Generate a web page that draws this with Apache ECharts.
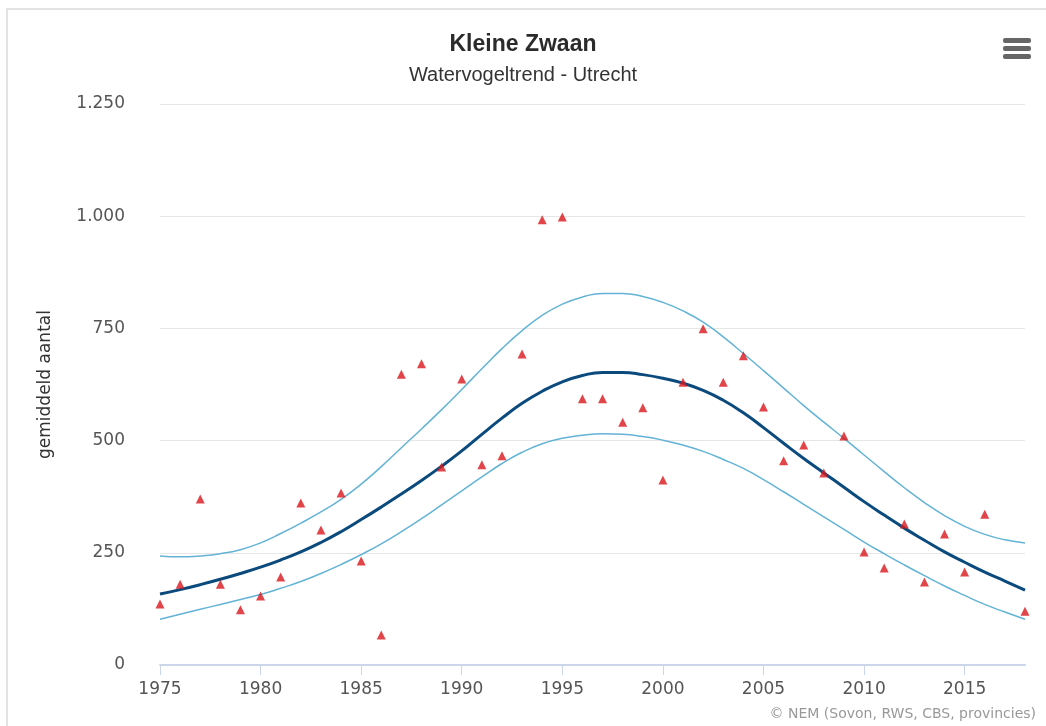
<!DOCTYPE html>
<html>
<head>
<meta charset="utf-8">
<title>Kleine Zwaan</title>
<script src="https://cdn.jsdelivr.net/npm/echarts@6/dist/echarts.min.js"></script>
<style>
  html, body { margin: 0; padding: 0; background: #fff; }
  #frame { position: absolute; left: 6px; top: 8px; width: 1040px; height: 718px;
           border-top: 2px solid #e3e3e3; border-left: 2px solid #e3e3e3; }
  #chart { position: absolute; left: 0; top: 0; width: 1046px; height: 726px; }
</style>
</head>
<body>
<div id="frame"></div>
<div id="chart"></div>
<script>
// jaren 1975-2018
const years = [1975, 1976, 1977, 1978, 1979, 1980, 1981, 1982, 1983, 1984,
  1985, 1986, 1987, 1988, 1989, 1990, 1991, 1992, 1993, 1994,
  1995, 1996, 1997, 1998, 1999, 2000, 2001, 2002, 2003, 2004,
  2005, 2006, 2007, 2008, 2009, 2010, 2011, 2012, 2013, 2014,
  2015, 2016, 2017, 2018];

// getelde aantallen (2017 ontbreekt)
const counts = [136, 180, 370, 180, 123, 154, 196, 361, 301, 383,
  232, 67, 648, 671, 441, 637, 446, 466, 693, 992,
  998, 593, 593, 541, 573, 412, 630, 749, 630, 689,
  575, 455, 490, 428, 510, 252, 216, 314, 185, 292,
  207, 336, null, 120];

// trendlijn
const trend = [158, 168, 179, 191, 204, 218, 234, 252, 273, 297,
  324, 352, 381, 411, 443, 477, 514, 550, 583, 610,
  631, 645, 652, 652, 647, 639, 628, 612, 590, 562,
  529, 494, 460, 428, 396, 364, 334, 305, 278, 252,
  229, 207, 187, 167];

// bovengrens betrouwbaarheidsinterval
const upper = [243, 241, 243, 248, 257, 272, 293, 316, 341, 369,
  403, 442, 484, 526, 569, 614, 660, 705, 745, 779,
  804, 820, 828, 828, 821, 808, 789, 764, 731, 694,
  656, 617, 578, 541, 505, 468, 431, 395, 362, 333,
  309, 291, 279, 272];

// ondergrens betrouwbaarheidsinterval
const lower = [102, 113, 124, 135, 146, 157, 171, 186, 204, 224,
  246, 270, 297, 326, 357, 388, 419, 449, 474, 493,
  505, 512, 515, 514, 509, 501, 490, 476, 458, 438,
  413, 386, 358, 330, 302, 274, 248, 223, 199, 176,
  155, 135, 118, 102];

const pairs = arr => years.map((y, i) => [y, arr[i]]);

const chart = echarts.init(document.getElementById('chart'));

const bandStyle = { color: '#63b3d6', width: 1.5 };

chart.setOption({
  animation: false,
  title: {
    text: 'Kleine Zwaan',
    subtext: 'Watervogeltrend - Utrecht',
    left: 'center',
    top: 28,
    itemGap: 9,
    textStyle: { fontFamily: 'Liberation Sans', fontSize: 23, fontWeight: 'bold', color: '#2b2b2b' },
    subtextStyle: { fontFamily: 'Liberation Sans', fontSize: 20, color: '#333' }
  },
  grid: { left: 160, right: 21, top: 104, bottom: 61 },
  xAxis: {
    type: 'value',
    min: 1975,
    max: 2018,
    interval: 5,
    axisLine: { lineStyle: { color: '#ccd6eb', width: 2 } },
    axisTick: { show: true, length: 10, lineStyle: { color: '#ccd6eb' } },
    axisLabel: { color: '#555', fontFamily: 'DejaVu Sans', fontSize: 17, margin: 16,
      showMaxLabel: false, formatter: v => String(v) },
    splitLine: { show: false }
  },
  yAxis: {
    type: 'value',
    min: 0,
    max: 1250,
    interval: 250,
    name: 'gemiddeld aantal',
    nameLocation: 'middle',
    nameGap: 106,
    nameTextStyle: { fontFamily: 'DejaVu Sans', fontSize: 17, color: '#333' },
    axisLine: { show: false },
    axisTick: { show: false },
    axisLabel: {
      color: '#555', fontFamily: 'DejaVu Sans', fontSize: 17, margin: 35,
      formatter: v => v >= 1000 ? Math.floor(v / 1000) + '.' + String(v % 1000).padStart(3, '0') : String(v)
    },
    splitLine: { lineStyle: { color: '#e6e6e6', width: 1 } }
  },
  series: [
    {
      name: 'bovengrens',
      type: 'line',
      data: pairs(upper),
      smooth: true,
      symbol: 'none',
      lineStyle: bandStyle,
      z: 2
    },
    {
      name: 'ondergrens',
      type: 'line',
      data: pairs(lower),
      smooth: true,
      symbol: 'none',
      lineStyle: bandStyle,
      z: 2
    },
    {
      name: 'trend',
      type: 'line',
      data: pairs(trend),
      smooth: true,
      symbol: 'none',
      lineStyle: { color: '#0b4a7d', width: 3 },
      z: 3
    },
    {
      name: 'telling',
      type: 'scatter',
      data: pairs(counts).filter(p => p[1] !== null),
      symbol: 'triangle',
      symbolSize: 9,
      itemStyle: { color: '#d9161c' },
      z: 4
    }
  ],
  graphic: [
    // menu-icoon rechtsboven
    { type: 'rect', shape: { x: 1003, y: 38, width: 28, height: 5, r: 2 }, style: { fill: '#666' } },
    { type: 'rect', shape: { x: 1003, y: 46, width: 28, height: 5, r: 2 }, style: { fill: '#666' } },
    { type: 'rect', shape: { x: 1003, y: 54, width: 28, height: 5, r: 2 }, style: { fill: '#666' } },
    {
      type: 'text',
      right: 10,
      top: 707,
      style: { text: '© NEM (Sovon, RWS, CBS, provincies)', fontFamily: 'DejaVu Sans', fontSize: 14, fill: '#999' }
    }
  ]
});
</script>
</body>
</html>
